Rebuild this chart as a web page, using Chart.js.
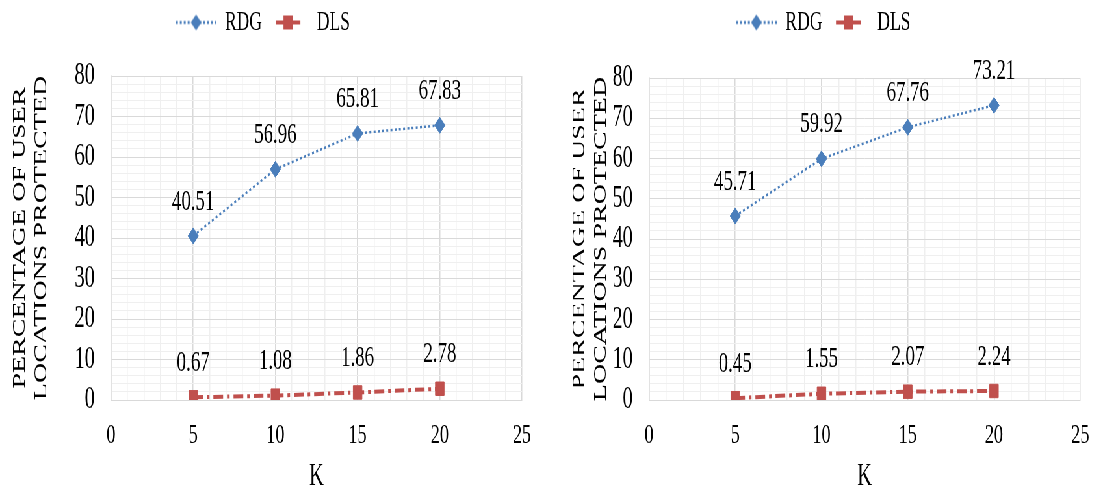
<!DOCTYPE html>
<html><head><meta charset="utf-8">
<script src="https://cdn.jsdelivr.net/npm/chart.js@4.4.1/dist/chart.umd.min.js"></script>
<style>
html,body{margin:0;padding:0;background:#fff;overflow:hidden;width:1102px;height:492px;}
#stage{position:absolute;left:0;top:0;width:1695px;height:492px;transform:scaleX(0.65);transform-origin:0 0;}
#c1{position:absolute;left:0;top:0;}
#c2{position:absolute;left:861px;top:0;}
</style></head><body>
<div id="stage">
<canvas id="c1" width="836" height="492"></canvas>
<canvas id="c2" width="834" height="492"></canvas>
</div>
<script>
// ---- data ----
const kValues = [5, 10, 15, 20];
const rdgLeft = [40.51, 56.96, 65.81, 67.83];
const dlsLeft = [0.67, 1.08, 1.86, 2.78];
const rdgRight = [45.71, 59.92, 67.76, 73.21];
const dlsRight = [0.45, 1.55, 2.07, 2.24];
const seriesNames = ['RDG', 'DLS'];
const yTitle = ['PERCENTAGE OF USER', 'LOCATIONS PROTECTED'];
const xTitle = 'K';
const xRange = [0, 25];
const yRange = [0, 80];
const xLabelEvery = 5;
const yLabelEvery = 10;

// ---- styles ----
const FONT = '"Liberation Serif", "Times New Roman", serif';
const TEXT = '#000000';
const BLUE = '#4a7ebb';
const RED = '#c0504d';
const MAJOR = '#d9d9d9';
const MINOR = '#efefef';
Chart.defaults.font.family = FONT;
Chart.defaults.color = TEXT;

function blueIcon() {
  const c = document.createElement('canvas'); c.width = 62; c.height = 20;
  const g = c.getContext('2d');
  g.strokeStyle = BLUE; g.lineWidth = 3; g.setLineDash([3, 3]);
  g.beginPath(); g.moveTo(0, 10); g.lineTo(62, 10); g.stroke();
  g.setLineDash([]); g.fillStyle = BLUE;
  g.beginPath(); g.moveTo(31 - 8, 10); g.lineTo(31, 2); g.lineTo(31 + 8, 10); g.lineTo(31, 18); g.closePath(); g.fill();
  return c;
}
function redIcon() {
  const c = document.createElement('canvas'); c.width = 62; c.height = 20;
  const g = c.getContext('2d');
  g.fillStyle = RED;
  g.fillRect(12, 8, 12, 4);
  g.fillRect(24, 3, 14, 14);
  g.fillRect(38, 8, 12, 4);
  return c;
}
const icons = [blueIcon(), redIcon()];

const valueLabels = {
  id: 'valueLabels',
  afterDatasetsDraw(chart) {
    const ctx = chart.ctx;
    ctx.save();
    ctx.font = '29px ' + FONT;
    ctx.fillStyle = TEXT; ctx.textAlign = 'center'; ctx.textBaseline = 'middle';
    chart.data.datasets.forEach((ds, i) => {
      chart.getDatasetMeta(i).data.forEach((pt, j) => {
        ctx.fillText(ds.data[j].y.toFixed(2), pt.x, pt.y - 34);
      });
    });
    ctx.restore();
  }
};

function makeChart(id, rdg, dls, yAxisWidth, rightPad, legendHeight) {
  const legendGap = {
    id: 'legendGap',
    beforeUpdate(chart) {
      const lg = chart.legend;
      if (lg && !lg._gapPatched) {
        const orig = lg.fit;
        lg.fit = function () { orig.call(this); this.height = legendHeight; };
        lg._gapPatched = true;
      }
    }
  };
  return new Chart(document.getElementById(id), {
    type: 'line',
    data: {
      datasets: [
        {
          label: seriesNames[0],
          data: kValues.map((k, i) => ({ x: k, y: rdg[i] })),
          borderColor: BLUE, backgroundColor: BLUE,
          borderWidth: 2.5, borderDash: [3, 3.5],
          pointStyle: 'rectRot', pointRadius: 8, pointBorderWidth: 1,
          pointBackgroundColor: BLUE, pointBorderColor: BLUE, tension: 0
        },
        {
          label: seriesNames[1],
          data: kValues.map((k, i) => ({ x: k, y: dls[i] })),
          borderColor: RED, backgroundColor: RED,
          borderWidth: 4, borderDash: [15, 6, 4, 6],
          pointStyle: 'rect', pointRadius: 9.5, pointBorderWidth: 1,
          pointBackgroundColor: RED, pointBorderColor: RED, tension: 0
        }
      ]
    },
    options: {
      responsive: false,
      animation: false,
      events: [],
      layout: { padding: { left: 0, right: rightPad, top: 0, bottom: 0 } },
      plugins: {
        tooltip: { enabled: false },
        legend: {
          display: true, position: 'top', align: 'center',
          labels: {
            usePointStyle: true, pointStyleWidth: 62, padding: 9,
            color: TEXT, font: { size: 27 },
            generateLabels: (chart) => chart.data.datasets.map((ds, i) => ({
              text: ds.label, pointStyle: icons[i], fillStyle: ds.borderColor,
              strokeStyle: ds.borderColor, lineWidth: 0, hidden: false,
              datasetIndex: i, fontColor: TEXT
            }))
          }
        }
      },
      scales: {
        x: {
          type: 'linear', min: xRange[0], max: xRange[1],
          ticks: {
            stepSize: 1, autoSkip: false, maxRotation: 0, minRotation: 0,
            padding: 19, color: TEXT, font: { size: 28 },
            callback: (v) => (v % xLabelEvery === 0 ? String(v) : '')
          },
          grid: {
            drawTicks: false, lineWidth: 1.5,
            color: (c) => (c.tick && c.tick.value % xLabelEvery === 0 ? MAJOR : MINOR)
          },
          border: { display: true, color: MAJOR, width: 1 },
          title: {
            display: true, text: xTitle, color: TEXT,
            font: { size: 31, lineHeight: 1 }, padding: { top: 0, bottom: 0 }
          },
          afterFit: (s) => { s.height = 92; }
        },
        y: {
          type: 'linear', min: yRange[0], max: yRange[1],
          ticks: {
            stepSize: 2, autoSkip: false, padding: 25, color: TEXT, font: { size: 31 },
            callback: (v) => (v % yLabelEvery === 0 ? String(v) : '')
          },
          grid: {
            drawTicks: false, lineWidth: 1,
            color: (c) => (c.tick && c.tick.value % yLabelEvery === 0 ? MAJOR : MINOR)
          },
          border: { display: true, color: MAJOR, width: 1.5 },
          title: {
            display: true, text: yTitle, color: TEXT,
            font: { size: 28, lineHeight: 1.18 }, padding: { top: 14.5, bottom: 0 }
          },
          afterFit: (s) => { s.width = yAxisWidth; }
        }
      }
    },
    plugins: [legendGap, valueLabels]
  });
}

makeChart('c1', rdgLeft, dlsLeft, 170.8, 26.8, 76);
makeChart('c2', rdgRight, dlsRight, 137.5, 22.7, 78);
</script>
</body></html>
